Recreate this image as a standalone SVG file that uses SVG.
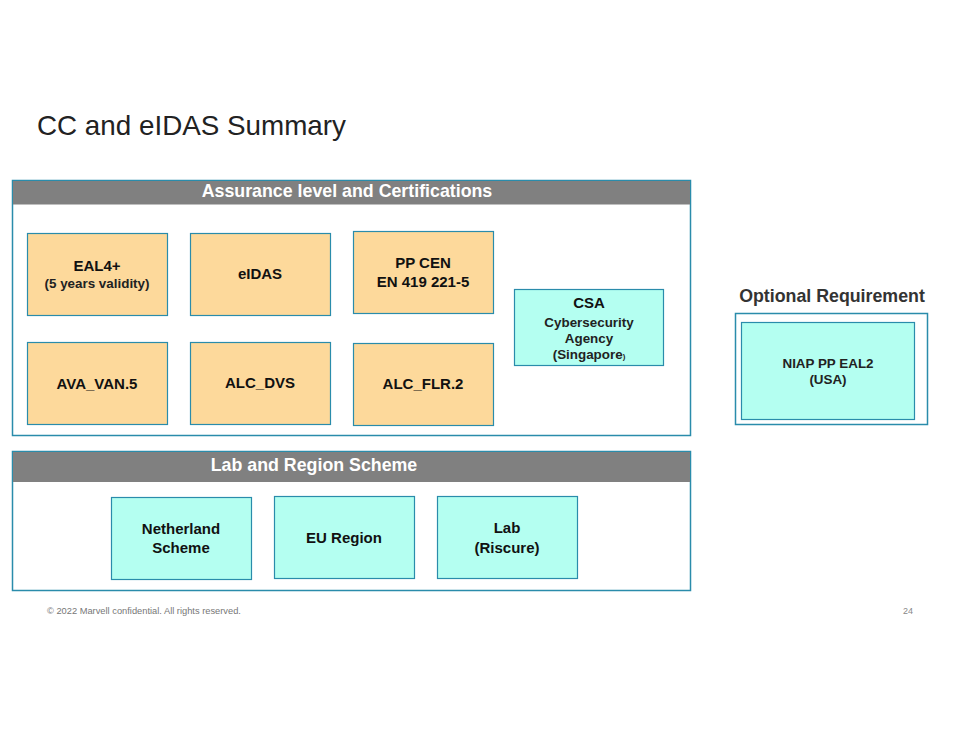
<svg xmlns="http://www.w3.org/2000/svg" width="960" height="742" viewBox="0 0 960 742">
<style>
text{font-family:"Liberation Sans",Arial,sans-serif}
.frame{fill:#fff;stroke:#2a8cab;stroke-width:1.5}
.hdr{fill:#808080}
.hdrt{fill:#fff;font-weight:bold;font-size:17.8px;text-anchor:middle}
.org{fill:#fdd99b;stroke:#2a8cab;stroke-width:1.2}
.cyn{fill:#b4fff1;stroke:#2a8cab;stroke-width:1.2}
.t{font-weight:bold;font-size:15px;text-anchor:middle;fill:#111}
.s{font-weight:bold;font-size:13.4px;text-anchor:middle;fill:#222}
</style>
<rect width="960" height="742" fill="#fff"/>
<text x="37" y="135" font-size="27.8" fill="#222">CC and eIDAS Summary</text>

<g id="group-assurance">
<rect class="frame" x="12.5" y="180.5" width="678" height="255"/>
<rect class="hdr" x="13" y="181" width="677" height="23.5"/>
<text class="hdrt" x="347" y="197">Assurance level and Certifications</text>
</g>
<g id="eal4"><rect class="org" x="27.5" y="233.5" width="140" height="82"/>
<text class="t" x="97" y="271">EAL4+</text><text class="s" x="97" y="288">(5 years validity)</text></g>
<g id="eidas"><rect class="org" x="190.5" y="233.5" width="140" height="82"/>
<text class="t" x="260" y="279">eIDAS</text></g>
<g id="ppcen"><rect class="org" x="353.5" y="231.5" width="140" height="82"/>
<text class="t" x="423" y="268">PP CEN</text><text class="t" x="423" y="287">EN 419 221-5</text></g>
<g id="ava"><rect class="org" x="27.5" y="342.5" width="140" height="82"/>
<text class="t" x="97" y="389">AVA_VAN.5</text></g>
<g id="alcdvs"><rect class="org" x="190.5" y="342.5" width="140" height="82"/>
<text class="t" x="260" y="388">ALC_DVS</text></g>
<g id="alcflr"><rect class="org" x="353.5" y="343.5" width="140" height="82"/>
<text class="t" x="423" y="389">ALC_FLR.2</text></g>
<g id="csa"><rect class="cyn" x="514.5" y="289.5" width="149" height="76" fill="#c0fff8"/>
<text class="t" x="589" y="308" font-size="16.5">CSA</text>
<text class="s" x="589" y="327">Cybersecurity</text>
<text class="s" x="589" y="343">Agency</text>
<text class="s" x="589" y="359">(Singapore<tspan font-size="8">)</tspan></text></g>

<g id="group-lab">
<rect class="frame" x="12.5" y="451.5" width="678" height="139"/>
<rect class="hdr" x="13" y="452" width="677" height="30"/>
<text class="hdrt" x="314" y="471">Lab and Region Scheme</text>
</g>
<g id="netherland"><rect class="cyn" x="111.5" y="497.5" width="140" height="82"/>
<text class="t" x="181" y="534">Netherland</text><text class="t" x="181" y="553">Scheme</text></g>
<g id="euregion"><rect class="cyn" x="274.5" y="496.5" width="140" height="82"/>
<text class="t" x="344" y="543">EU Region</text></g>
<g id="lab"><rect class="cyn" x="437.5" y="496.5" width="140" height="82"/>
<text class="t" x="507" y="533">Lab</text><text class="t" x="507" y="553">(Riscure)</text></g>

<g id="optional">
<text x="832" y="302" font-size="17.8" font-weight="bold" text-anchor="middle" fill="#333">Optional Requirement</text>
<rect class="frame" x="735.5" y="313.5" width="192" height="111"/>
<rect class="cyn" x="741.5" y="322.5" width="173" height="97" fill="#c0fff4"/>
<text class="s" x="828" y="368">NIAP PP EAL2</text>
<text class="s" x="828" y="384">(USA)</text>
</g>
<g id="connectors"></g>

<text x="47" y="614" font-size="9.3" fill="#777">© 2022 Marvell confidential. All rights reserved.</text>
<text x="903" y="614" font-size="9" fill="#888">24</text>
</svg>
